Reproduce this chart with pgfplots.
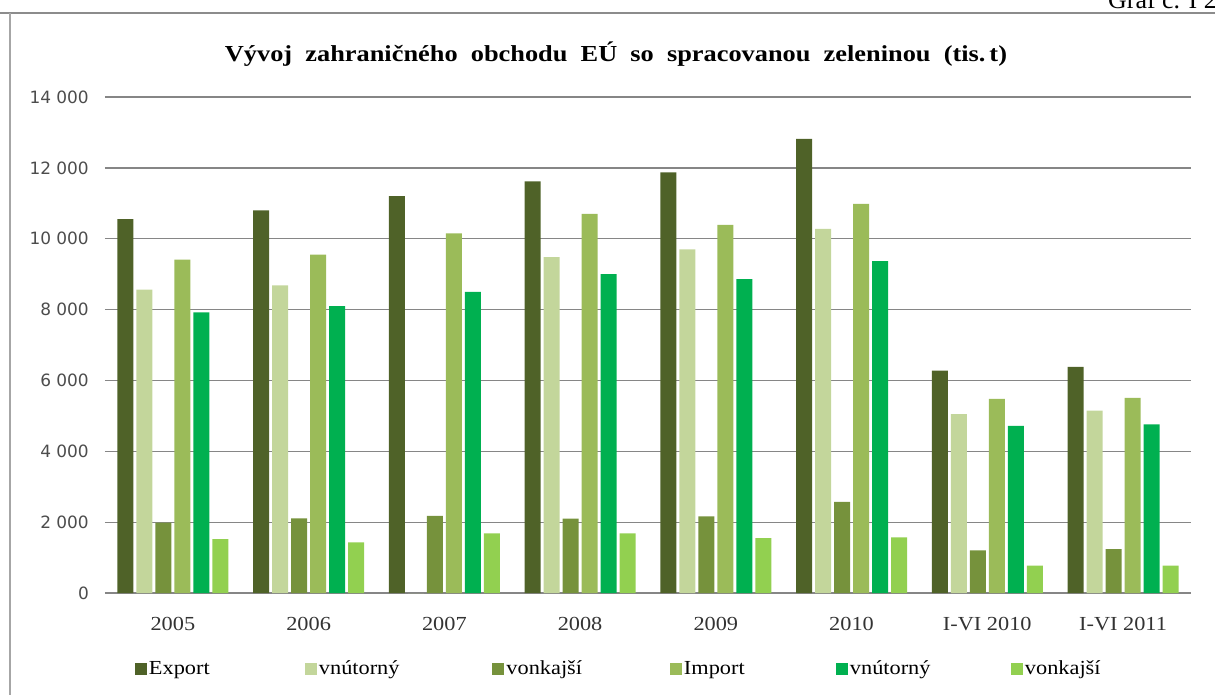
\documentclass[border=0pt]{standalone}
\usepackage{pgfplots}
\pgfplotsset{compat=1.18}
\usepackage{fontspec}
\setmainfont{Liberation Serif}
\newfontfamily\wide[FakeStretch=1.12]{Liberation Serif}
\newfontfamily\titlefont[FakeStretch=1.15, WordSpace=2.0]{Liberation Serif}
\newfontfamily\tickfont{DejaVu Sans}
\definecolor{cExp}{HTML}{4F6228}
\definecolor{cVn1}{HTML}{C3D69B}
\definecolor{cVo1}{HTML}{76923C}
\definecolor{cImp}{HTML}{9BBB59}
\definecolor{cVn2}{HTML}{00B050}
\definecolor{cVo2}{HTML}{92D050}
\definecolor{gridc}{HTML}{868686}
\begin{document}
\begin{tikzpicture}
\begin{axis}[
  at={(105bp,-593bp)}, anchor=south west,
  scale only axis, width=1086bp, height=496bp,
  ybar=3bp, bar width=16bp,
  xmin=-0.5, xmax=7.5, ymin=0, ymax=14000,
  xtick={0,...,7},
  xticklabels={2005,2006,2007,2008,2009,2010,I-VI 2010,I-VI 2011},
  ytick={0,2000,...,14000},
  scaled y ticks=false,
  ymajorgrids, grid style={gridc, line width=1.3bp},
  axis line style={draw=none},
  tick style={draw=none},
  /pgf/number format/assume math mode=true,
  /pgf/number format/.cd, 1000 sep={\ }, /pgfplots/.cd,
  yticklabel style={font=\tickfont\fontsize{17}{20}\selectfont, text=black!70, anchor=east, inner sep=0pt, xshift=-16bp},
  xticklabel style={font=\wide\fontsize{20}{24}\selectfont, text=black!80, anchor=north, inner sep=0pt, yshift=-20bp},
  legend image code/.code={\fill[#1] (0bp,-6bp) rectangle (12bp,6bp);},
  legend columns=6,
  legend style={at={(axis description cs:0.0276,-0.1522)}, anchor=west, draw=none, fill=none, inner sep=0pt, outer sep=0pt,
    font=\wide\fontsize{20}{24}\selectfont,
    /tikz/every even column/.style={column sep=0pt},
    nodes={inner xsep=2bp, inner ysep=0pt, anchor=west}},
]
\addplot[fill=cExp, draw=none] coordinates {(0,10550) (1,10800) (2,11200) (3,11620) (4,11870) (5,12820) (6,6280) (7,6380)};
\addplot[fill=cVn1, draw=none] coordinates {(0,8560) (1,8680) (2,0) (3,9480) (4,9700) (5,10280) (6,5050) (7,5150)};
\addplot[fill=cVo1, draw=none] coordinates {(0,1990) (1,2110) (2,2180) (3,2100) (4,2160) (5,2570) (6,1200) (7,1240)};
\addplot[fill=cImp, draw=none] coordinates {(0,9410) (1,9550) (2,10150) (3,10700) (4,10390) (5,10980) (6,5480) (7,5510)};
\addplot[fill=cVn2, draw=none] coordinates {(0,7920) (1,8100) (2,8500) (3,9000) (4,8860) (5,9370) (6,4720) (7,4760)};
\addplot[fill=cVo2, draw=none] coordinates {(0,1520) (1,1430) (2,1680) (3,1680) (4,1550) (5,1570) (6,770) (7,770)};
\legend{\makebox[154bp][l]{Export},\makebox[171.5bp][l]{vnútorný},\makebox[161.5bp][l]{vonkajší},\makebox[150bp][l]{Import},\makebox[159bp][l]{vnútorný},vonkajší}
\end{axis}
\node[font=\titlefont\bfseries\fontsize{23}{27}\selectfont, anchor=center] at (616bp,-54bp) {Vývoj zahraničného obchodu EÚ so spracovanou zeleninou (tis.\hspace{4bp}t)};
\node[font=\fontsize{26}{30}\selectfont, anchor=base west, inner sep=0pt] at (1108bp,-8bp) {Graf č. I 2};
\draw[black!45, line width=2bp] (0bp,-13bp) -- (1215bp,-13bp);
\draw[black!35, line width=2.5bp] (10bp,-13bp) -- (10bp,-700bp);
\pgfresetboundingbox
\path[use as bounding box] (0bp,0bp) rectangle (1215bp,-695bp);
\end{tikzpicture}
\end{document}
